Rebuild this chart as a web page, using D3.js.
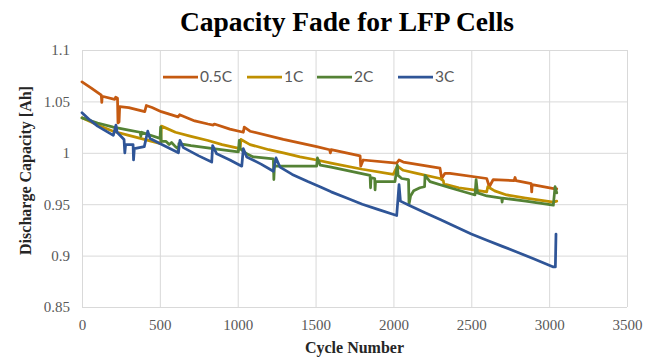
<!DOCTYPE html>
<html>
<head>
<meta charset="utf-8">
<script src="https://cdn.jsdelivr.net/npm/d3@7"></script>
<style>
  body { margin: 0; background: #fff; }
  svg text { font-family: "Liberation Serif", serif; }
</style>
</head>
<body>
<div id="chart"></div>
<script>
// tick values
const xTicks = [0, 500, 1000, 1500, 2000, 2500, 3000, 3500];
const yTicks = [0.85, 0.9, 0.95, 1, 1.05, 1.1];

// series: [cycle, capacity]
const c05 = [[0,1.069],[60,1.063],[124,1.056],[127,1.049],[130,1.055],[210,1.052],[216,1.054],[228,1.053],
  [231,1.029],[238,1.030],[242,1.045],[300,1.044],[403,1.040],[413,1.046],[450,1.044],[509,1.040],
  [617,1.035],[627,1.037],[724,1.031],[809,1.028],[843,1.027],[850,1.028],[950,1.023],[1036,1.020],
  [1042,1.025],[1079,1.021],[1293,1.013],[1507,1.006],[1590,1.003],[1595,1.000],[1600,1.003],
  [1786,0.997],[1790,0.987],[1806,0.993],[2021,0.990],[2036,0.993],[2063,0.991],[2299,0.985],
  [2310,0.975],[2331,0.980],[2363,0.980],[2599,0.975],[2616,0.967],[2641,0.974],[2775,0.973],
  [2781,0.976],[2787,0.973],[2885,0.970],[2888,0.962],[2891,0.969],[3038,0.965],[3049,0.965]];

const c1 = [[0,1.034],[100,1.027],[200,1.021],[300,1.017],[400,1.013],[505,1.009],[510,1.026],[540,1.024],
  [600,1.020],[700,1.016],[809,1.012],[900,1.008],[1015,1.004],[1021,1.013],[1079,1.008],[1200,1.003],
  [1293,1.000],[1400,0.996],[1507,0.993],[1600,0.990],[1800,0.984],[1999,0.979],[2025,0.987],
  [2063,0.983],[2150,0.980],[2300,0.975],[2320,0.973],[2325,0.969],[2340,0.969],[2420,0.966],
  [2513,0.964],[2599,0.962],[2606,0.967],[2650,0.963],[2727,0.959],[2850,0.956],[3027,0.952],[3049,0.953]];

const c2 = [[0,1.034],[100,1.029],[201,1.025],[300,1.022],[373,1.020],[378,1.016],[383,1.020],[440,1.017],
  [501,1.014],[505,1.025],[509,1.011],[540,1.011],[560,1.008],[575,1.010],[600,1.006],[617,1.004],
  [619,1.001],[622,1.009],[700,1.007],[843,1.004],[1004,1.001],[1010,1.012],[1015,1.004],[1058,0.999],
  [1100,0.996],[1229,0.994],[1232,0.974],[1236,0.988],[1250,0.987],[1507,0.987],[1512,0.995],
  [1530,0.988],[1600,0.986],[1850,0.978],[1853,0.966],[1856,0.976],[1880,0.975],[1882,0.964],
  [1885,0.972],[2010,0.972],[2025,0.988],[2030,0.978],[2053,0.975],[2097,0.974],[2100,0.950],
  [2110,0.958],[2130,0.963],[2170,0.966],[2200,0.967],[2203,0.978],[2235,0.972],[2363,0.966],
  [2524,0.959],[2531,0.974],[2540,0.961],[2600,0.958],[2695,0.956],[2698,0.952],[2701,0.956],
  [2850,0.953],[3027,0.949],[3038,0.967],[3049,0.961]];

const c3 = [[0,1.039],[50,1.032],[100,1.026],[201,1.017],[218,1.027],[225,1.020],[270,1.013],[275,1.000],
  [280,1.008],[328,1.008],[331,0.993],[336,1.004],[400,1.006],[422,1.021],[437,1.014],[500,1.009],
  [619,1.000],[629,1.012],[651,1.005],[750,0.997],[833,0.991],[839,1.007],[865,0.999],[950,0.993],
  [1026,0.987],[1036,1.004],[1058,0.996],[1150,0.989],[1229,0.982],[1246,0.995],[1272,0.986],
  [1350,0.979],[1450,0.972],[1528,0.967],[1600,0.962],[1700,0.956],[1800,0.950],[1900,0.945],
  [2021,0.939],[2036,0.969],[2045,0.953],[2100,0.949],[2200,0.942],[2300,0.935],[2400,0.928],
  [2500,0.921],[2600,0.915],[2700,0.909],[2800,0.903],[2900,0.897],[3027,0.889],[3040,0.889],[3044,0.921]];

const names = ["0.5C", "1C", "2C", "3C"];
const colors = ["#C55A11", "#BF9000", "#548235", "#2F5597"];
const allSeries = [c05, c1, c2, c3];

const margin = {top: 50, right: 29, bottom: 53, left: 82},
    width = 656 - margin.left - margin.right,
    height = 360 - margin.top - margin.bottom;

const root = d3.select("#chart")
  .append("svg")
    .attr("width", 656)
    .attr("height", 360);

const svg = root.append("g")
    .attr("transform", "translate(" + margin.left + "," + margin.top + ")");

const x = d3.scaleLinear().domain([0, 3500]).range([0, width]);
const y = d3.scaleLinear().domain([0.85, 1.1]).range([height, 0]);

// gridlines
svg.append("g")
    .call(d3.axisBottom(x).tickValues(xTicks).tickSize(-height).tickFormat(""))
    .attr("transform", "translate(0," + height + ")")
    .call(g => g.select(".domain").remove())
    .selectAll("line").attr("stroke", "#d9d9d9");

svg.append("g")
    .call(d3.axisLeft(y).tickValues(yTicks).tickSize(-width).tickFormat(""))
    .call(g => g.select(".domain").remove())
    .selectAll("line").attr("stroke", "#d9d9d9");

// tick labels
svg.append("g")
    .attr("transform", "translate(0," + height + ")")
    .call(d3.axisBottom(x).tickValues(xTicks).tickSize(0).tickPadding(12).tickFormat(d3.format("d")))
    .call(g => g.select(".domain").remove())
    .selectAll("text")
    .style("font-family", "Liberation Serif")
    .style("font-size", "15px")
    .attr("fill", "#595959");

svg.append("g")
    .call(d3.axisLeft(y).tickValues(yTicks).tickSize(0).tickPadding(12).tickFormat(d => d3.format("")(+d.toFixed(2))))
    .call(g => g.select(".domain").remove())
    .selectAll("text")
    .style("font-family", "Liberation Serif")
    .style("font-size", "15px")
    .attr("fill", "#595959");

// lines
const line = d3.line()
    .x(d => x(d[0]))
    .y(d => y(d[1]));

allSeries.forEach((s, i) => {
  svg.append("path")
      .datum(s)
      .attr("fill", "none")
      .attr("stroke", colors[i])
      .attr("stroke-width", 2.75)
      .attr("stroke-linejoin", "round")
      .attr("stroke-linecap", "round")
      .attr("d", line);
});

// legend
const legendX = [81, 165, 235, 316];
const leg = svg.append("g").attr("transform", "translate(0,27)");
names.forEach((n, i) => {
  const g = leg.append("g").attr("transform", "translate(" + legendX[i] + ",0)");
  g.append("line")
      .attr("x1", 0).attr("x2", 35)
      .attr("stroke", colors[i])
      .attr("stroke-width", 2.75);
  g.append("text")
      .attr("x", 37)
      .attr("y", 5)
      .style("font-family", "Lato")
      .style("font-size", "15.5px")
      .attr("fill", "#595959")
      .text(n);
});

// titles
root.append("text")
    .attr("x", 347)
    .attr("y", 31)
    .attr("text-anchor", "middle")
    .style("font-size", "27.5px")
    .style("font-weight", "bold")
    .text("Capacity Fade for LFP Cells");

root.append("text")
    .attr("x", margin.left + width / 2)
    .attr("y", 353)
    .attr("text-anchor", "middle")
    .style("font-size", "16px")
    .style("font-weight", "bold")
    .attr("fill", "#262626")
    .text("Cycle Number");

root.append("text")
    .attr("transform", "translate(31," + (margin.top + height / 2 - 8) + ") rotate(-90)")
    .attr("text-anchor", "middle")
    .style("font-size", "16px")
    .style("font-weight", "bold")
    .attr("fill", "#262626")
    .text("Discharge Capacity [Ah]");
</script>
</body>
</html>
